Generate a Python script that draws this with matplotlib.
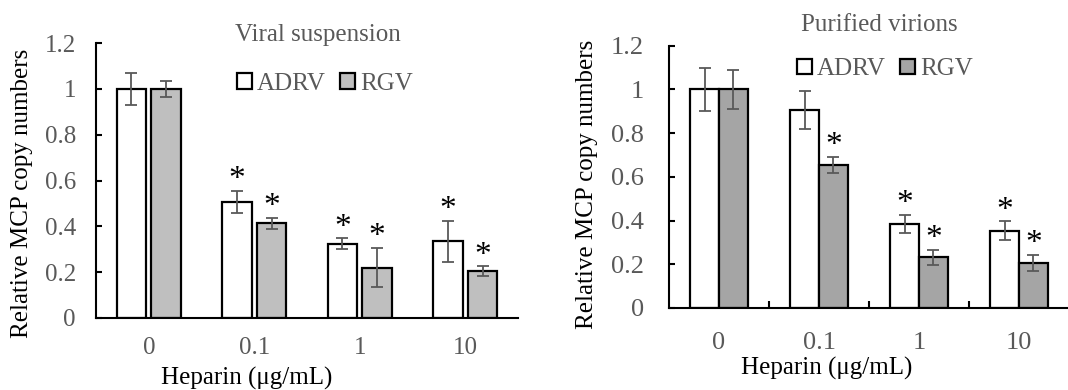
import matplotlib
matplotlib.use("Agg")
import matplotlib.pyplot as plt
from matplotlib.patches import Patch
import numpy as np

plt.rcParams['font.family'] = ['Liberation Serif', 'DejaVu Serif']

categories = ['0', '0.1', '1', '10']
ytick_vals = [0, 0.2, 0.4, 0.6, 0.8, 1.0, 1.2]
ytick_labels = ['0', '0.2', '0.4', '0.6', '0.8', '1', '1.2']

vs_adrv = [1.0, 0.505, 0.325, 0.335]
vs_adrv_err = [0.07, 0.048, 0.022, 0.09]
vs_rgv = [1.0, 0.413, 0.22, 0.205]
vs_rgv_err = [0.035, 0.023, 0.085, 0.02]
vs_adrv_sig = [False, True, True, True]
vs_rgv_sig = [False, True, True, True]

pv_adrv = [1.0, 0.905, 0.385, 0.353]
pv_adrv_err = [0.097, 0.088, 0.04, 0.043]
pv_rgv = [1.0, 0.655, 0.233, 0.207]
pv_rgv_err = [0.09, 0.037, 0.034, 0.037]
pv_adrv_sig = [False, False, True, True]
pv_rgv_sig = [False, True, True, True]

GRAY = '#595959'

fig = plt.figure(figsize=(10.68, 3.9), dpi=100)


def panel(rect, adrv, adrv_err, rgv, rgv_err, adrv_sig, rgv_sig, rgv_color,
          width, offset, title, title_xy, legend_xy, xlabel_xy, ylabel_xy,
          tick_fs, ypad, xpad, xticks_in):
    ax = fig.add_axes(rect)
    x = np.arange(len(categories))
    ekw = dict(ecolor=GRAY, elinewidth=1.3, capsize=4, capthick=1.3)
    ax.bar(x - offset, adrv, width, color='white', edgecolor='black',
           linewidth=1.6, yerr=adrv_err, error_kw=ekw, zorder=2)
    ax.bar(x + offset, rgv, width, color=rgv_color, edgecolor='black',
           linewidth=1.6, yerr=rgv_err, error_kw=ekw, zorder=2)
    for xs, vals, errs, sigs in ((x - offset, adrv, adrv_err, adrv_sig),
                                 (x + offset, rgv, rgv_err, rgv_sig)):
        for xi, v, e, s in zip(xs, vals, errs, sigs):
            if s:
                ax.annotate('*', (xi, v + e), xytext=(0, -3), textcoords='offset points',
                            ha='center', va='bottom', fontsize=24, color='black')
    ax.set_xlim(-0.5, len(categories) - 0.5)
    ax.set_ylim(0, 1.2)
    ax.set_yticks(ytick_vals)
    ax.set_yticklabels(ytick_labels)
    ax.set_xticks(x)
    ax.set_xticklabels(categories)
    ax.tick_params(axis='y', direction='in', length=4, width=1.5, colors='black',
                   labelcolor=GRAY, labelsize=tick_fs, pad=ypad)
    ax.tick_params(axis='x', length=0, labelcolor=GRAY, labelsize=tick_fs, pad=xpad)
    if xticks_in:
        ax.set_xticks(np.arange(len(categories) - 1) + 0.5, minor=True)
        ax.tick_params(axis='x', which='minor', direction='in', length=5, width=1.5,
                       colors='black')
    for sp in ['top', 'right']:
        ax.spines[sp].set_visible(False)
    for sp in ['left', 'bottom']:
        ax.spines[sp].set_linewidth(1.5)
        ax.spines[sp].set_color('black')
    ax.text(title_xy[0], title_xy[1], title, transform=ax.transAxes, ha='center',
            va='center', fontsize=18, color=GRAY)
    handles = [Patch(facecolor='white', edgecolor='black', linewidth=1.6, label='ADRV'),
               Patch(facecolor=rgv_color, edgecolor='black', linewidth=1.6, label='RGV')]
    leg = ax.legend(handles=handles, loc='center left', bbox_to_anchor=legend_xy,
                    ncol=2, frameon=False, fontsize=18, handlelength=0.6,
                    handleheight=0.6, handletextpad=0.2, columnspacing=0.6,
                    borderpad=0, borderaxespad=0)
    for t in leg.get_texts():
        t.set_color(GRAY)
    fig.text(xlabel_xy[0] / 1068, 1 - xlabel_xy[1] / 390, 'Heparin (μg/mL)',
             ha='center', va='center', fontsize=18, color='black')
    fig.text(ylabel_xy[0] / 1068, 1 - ylabel_xy[1] / 390, 'Relative MCP copy numbers',
             ha='center', va='center', fontsize=18, color='black', rotation=90)
    return ax


panel([96 / 1068, 72 / 390, 422 / 1068, 275 / 390],
      vs_adrv, vs_adrv_err, vs_rgv, vs_rgv_err, vs_adrv_sig, vs_rgv_sig,
      '#BFBFBF', 0.28, 0.165, 'Viral suspension', (0.526, 1.03), (0.333, 0.852),
      (247, 378), (22, 193), 18, 14.5, 13.5, False)

panel([669 / 1068, 82 / 390, 400 / 1068, 262.3 / 390],
      pv_adrv, pv_adrv_err, pv_rgv, pv_rgv_err, pv_adrv_sig, pv_rgv_sig,
      '#A5A5A5', 0.285, 0.143, 'Purified virions', (0.525, 1.08), (0.319, 0.91),
      (827, 368), (587, 184), 19, 18, 17, True)

fig.savefig('out.png', dpi=100)
